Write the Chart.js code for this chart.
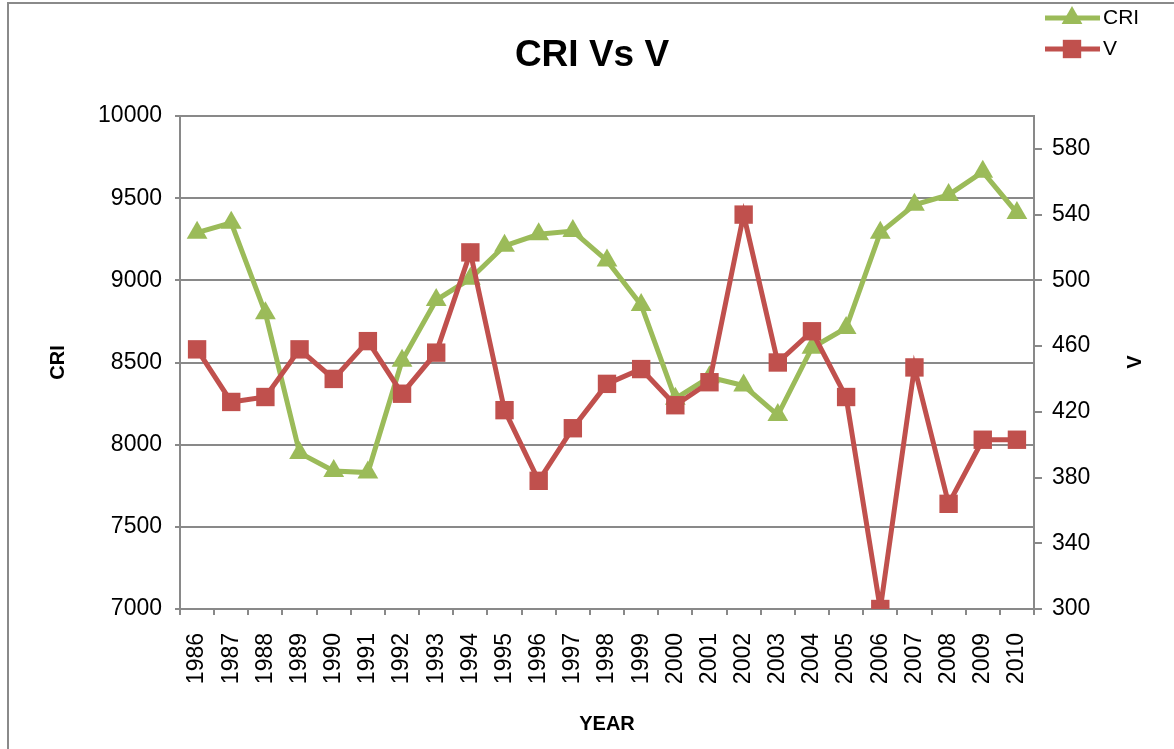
<!DOCTYPE html>
<html>
<head>
<meta charset="utf-8">
<title>CRI Vs V</title>
<script src="https://cdn.jsdelivr.net/npm/chart.js@4"></script>
<style>
  body { margin: 0; background: #fff; }
  canvas { display: block; }
</style>
</head>
<body>
<canvas id="myChart" width="1174" height="749"></canvas>
<script>
// data
var years = ['1986', '1987', '1988', '1989', '1990', '1991', '1992', '1993', '1994', '1995',
    '1996', '1997', '1998', '1999', '2000', '2001', '2002', '2003', '2004', '2005',
    '2006', '2007', '2008', '2009', '2010'];
var criValues = [9290, 9350, 8800, 7950, 7840, 7830, 8510, 8880, 9010, 9210,
    9280, 9300, 9120, 8850, 8280, 8410, 8360, 8180, 8590, 8710,
    9290, 9460, 9520, 9660, 9410];
var vValues = [458, 426, 429, 458, 440, 463, 431, 456, 517, 421,
    378, 410, 437, 446, 424, 438, 540, 450, 469, 429,
    300, 447, 364, 403, 403];
var criTicks = [7000, 7500, 8000, 8500, 9000, 9500, 10000];
var vTicks = [300, 340, 380, 420, 460, 500, 540, 580];

var green = '#9BBB59';
var red = '#C0504D';
var gridGray = '#898989';
var fontFamily = '"Liberation Sans", Arial, sans-serif';

Chart.defaults.font.family = fontFamily;
Chart.defaults.color = '#000';

// title, legend, right axis title and frame
var decor = {
    id: 'decor',
    beforeDraw: function(chart) {
        var c = chart.ctx;
        c.save();
        c.strokeStyle = '#8a8a8a';
        c.lineWidth = 2;
        c.strokeRect(8, 3, 1250, 850);
        c.restore();
    },
    afterDraw: function(chart) {
        var c = chart.ctx;
        c.save();
        c.fillStyle = '#000';
        c.textBaseline = 'middle';

        c.font = 'bold 37px ' + fontFamily;
        c.textAlign = 'center';
        c.fillText('CRI Vs V', 592, 56);

        c.save();
        c.translate(1135, 362);
        c.rotate(-Math.PI / 2);
        c.font = 'bold 20px ' + fontFamily;
        c.fillText('V', 0, 0);
        c.restore();

        var items = [
            {text: 'CRI', color: green, style: 'triangle', radius: 12, y: 18},
            {text: 'V', color: red, style: 'rect', radius: 13, y: 49}
        ];
        items.forEach(function(it) {
            c.strokeStyle = it.color;
            c.fillStyle = it.color;
            c.lineWidth = 5;
            c.beginPath();
            c.moveTo(1045, it.y);
            c.lineTo(1100, it.y);
            c.stroke();
            Chart.helpers.drawPoint(c, {pointStyle: it.style, radius: it.radius, rotation: 0, borderWidth: 0}, 1072, it.y);
            c.fillStyle = '#000';
            c.font = '21px ' + fontFamily;
            c.textAlign = 'left';
            c.fillText(it.text, 1103, it.y);
        });
        c.restore();
    }
};

function plain(value) {
    return String(value);
}

var ctx = document.getElementById('myChart').getContext('2d');
var chart = new Chart(ctx, {
    type: 'line',
    data: {
        labels: years,
        datasets: [{
            label: 'CRI',
            data: criValues,
            yAxisID: 'y',
            borderColor: green,
            backgroundColor: green,
            borderWidth: 5,
            pointStyle: 'triangle',
            pointRadius: 12,
            pointBorderWidth: 0,
            tension: 0,
            order: 1
        },
        {
            label: 'V',
            data: vValues,
            yAxisID: 'y1',
            borderColor: red,
            backgroundColor: red,
            borderWidth: 5,
            pointStyle: 'rect',
            pointRadius: 13,
            pointBorderWidth: 0,
            tension: 0,
            order: 0
        }]
    },
    options: {
        responsive: false,
        animation: false,
        layout: {padding: {left: 42, right: 0, top: 116, bottom: 0}},
        plugins: {
            legend: {display: false},
            title: {display: false},
            tooltip: {enabled: false}
        },
        scales: {
            x: {
                offset: true,
                grid: {drawOnChartArea: false, color: gridGray, lineWidth: 2, tickLength: 6, offset: true},
                border: {color: gridGray, width: 2},
                ticks: {autoSkip: false, minRotation: 90, maxRotation: 90, padding: 18, font: {size: 23}},
                title: {display: true, text: 'YEAR', font: {size: 20, weight: 'bold'}, padding: {top: 0, bottom: 13}},
                afterFit: function(scale) { scale.height = 140; }
            },
            y: {
                position: 'left',
                min: 7000,
                max: 10000,
                afterBuildTicks: function(scale) {
                    scale.ticks = criTicks.map(function(v) { return {value: v}; });
                },
                grid: {color: gridGray, lineWidth: 2, tickLength: 5},
                border: {color: gridGray, width: 2},
                ticks: {padding: 13, font: {size: 23}, callback: plain},
                title: {display: true, text: 'CRI', font: {size: 20, weight: 'bold'}, padding: {top: 4, bottom: 0}},
                afterFit: function(scale) { scale.width = 138; }
            },
            y1: {
                position: 'right',
                min: 300,
                max: 600,
                afterBuildTicks: function(scale) {
                    scale.ticks = vTicks.map(function(v) { return {value: v}; });
                },
                grid: {drawOnChartArea: false, color: gridGray, lineWidth: 2, tickLength: 8},
                border: {color: gridGray, width: 2},
                ticks: {padding: 10, font: {size: 23}, callback: plain},
                afterFit: function(scale) { scale.width = 140; }
            }
        }
    },
    plugins: [decor]
});
</script>
</body>
</html>
